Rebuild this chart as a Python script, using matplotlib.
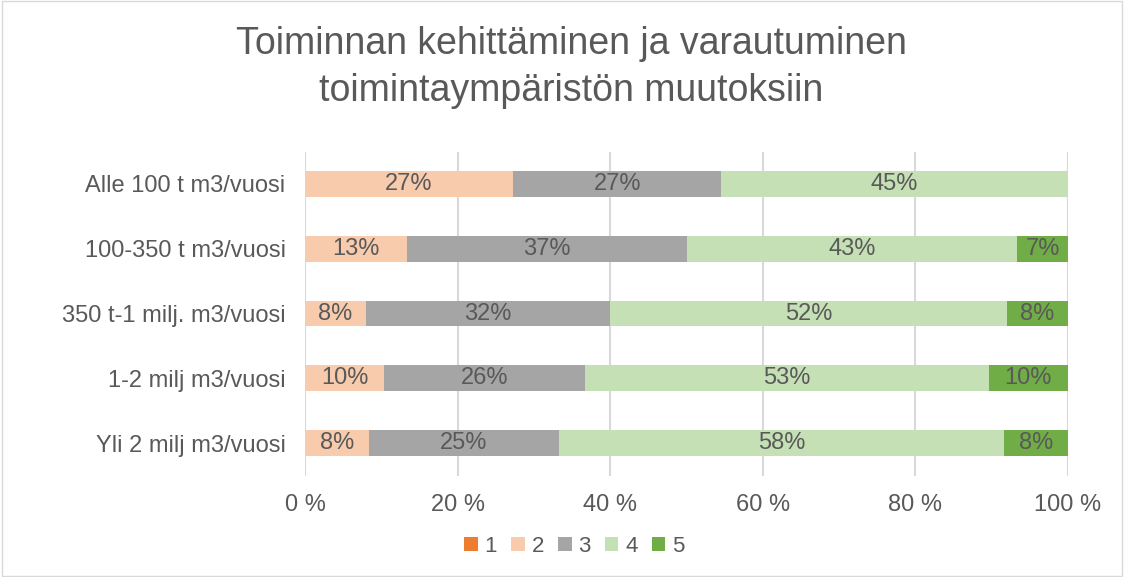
import matplotlib.pyplot as plt
import numpy as np

plt.rcParams['font.family'] = ['Liberation Sans', 'DejaVu Sans']

categories = ['Alle 100 t m3/vuosi', '100-350 t m3/vuosi', '350 t-1 milj. m3/vuosi',
              '1-2 milj m3/vuosi', 'Yli 2 milj m3/vuosi']
series_names = ['1', '2', '3', '4', '5']
# percent shares per category, series 1..5
s1 = [0.0, 0.0, 0.0, 0.0, 0.0]
s2 = [27.27, 13.33, 8.0, 10.4, 8.33]
s3 = [27.27, 36.67, 32.0, 26.3, 25.0]
s4 = [45.45, 43.33, 52.0, 52.9, 58.33]
s5 = [0.0, 6.67, 8.0, 10.4, 8.33]
colors = ['#ED7D31', '#F8CBAD', '#A5A5A5', '#C5E0B4', '#70AD47']
text_col = '#595959'

fig = plt.figure(figsize=(11.24, 5.77), dpi=100)
ax = fig.add_axes([0.2714, 0.1759, 0.6788, 0.5615])

y = np.arange(len(categories))
left = np.zeros(len(categories))
for name, vals, col in zip(series_names, [s1, s2, s3, s4, s5], colors):
    vals = np.array(vals)
    ax.barh(y, vals, left=left, height=0.4, color=col, label=name, zorder=2)
    for yi, l, v in zip(y, left, vals):
        if v > 0:
            ax.text(l + v / 2, yi, f'{v:.0f}%', ha='center', va='center',
                    fontsize=17, color=text_col, zorder=3)
    left += vals

ax.set_xlim(0, 100)
ax.set_ylim(4.5, -0.5)
ax.set_yticks(y)
ax.set_yticklabels(categories, fontsize=17, color=text_col)
ax.set_xticks(np.arange(0, 101, 20))
ax.set_xticklabels([f'{v} %' for v in range(0, 101, 20)], fontsize=17, color=text_col)
ax.tick_params(length=0, pad=14)
ax.tick_params(axis='x', pad=13)
ax.grid(axis='x', color='#D9D9D9', linewidth=1.5, zorder=0)
for sp in ax.spines.values():
    sp.set_visible(False)

fig.suptitle('Toiminnan kehittäminen ja varautuminen\ntoimintaympäristön muutoksiin',
             x=0.508, y=0.955, fontsize=27, color=text_col, linespacing=1.38)

fig.legend(loc='center', bbox_to_anchor=(0.511, 0.053), ncol=5, frameon=False,
           fontsize=16, labelcolor=text_col, handlelength=0.6, handleheight=0.6,
           handletextpad=0.3, columnspacing=0.65)

fig.patches.append(plt.Rectangle((0.002, 0.002), 0.996, 0.996, transform=fig.transFigure,
                                 fill=False, edgecolor='#D9D9D9', linewidth=1))

fig.savefig('out.png', dpi=100)
